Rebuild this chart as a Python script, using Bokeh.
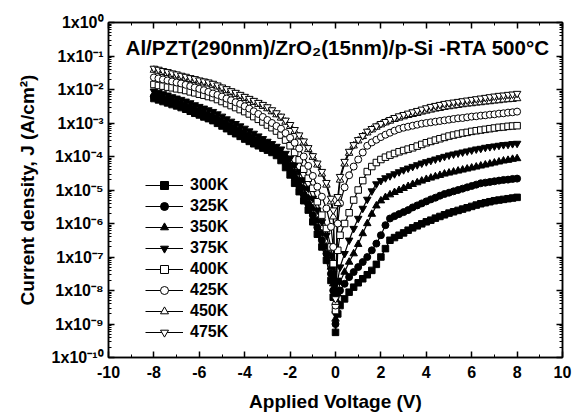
import math
from bokeh.plotting import figure
from bokeh.models import (Range1d, LogAxis, LinearAxis, FixedTicker,
                          CustomJSTickFormatter, Label, Legend, LegendItem)
from bokeh.embed import file_html
from bokeh.resources import INLINE

# ---------------- data ----------------
V_NEG = [round(-8.0 + 0.2 * i, 1) for i in range(40)]      # -8.0 ... -0.2
V_MID = [-0.1, 0.0, 0.1]
V_POS = [round(0.2 + 0.2 * i, 1) for i in range(40)]       # 0.2 ... 8.0
VOLT = V_NEG + V_MID + V_POS

LOGJ_300K = [-2.27, -2.31, -2.36, -2.40, -2.45, -2.49, -2.54, -2.59, -2.65, -2.71,
             -2.76, -2.82, -2.87, -2.93, -3.01, -3.09, -3.17, -3.25, -3.32, -3.40,
             -3.48, -3.55, -3.62, -3.68, -3.75, -3.81, -3.88, -3.97, -4.12, -4.33,
             -4.55, -4.80, -5.05, -5.32, -5.60, -5.95, -6.32, -6.70, -7.10, -7.70,
             -8.20, -9.25, -8.70,
             -8.45, -8.25, -8.05, -7.90, -7.77, -7.65, -7.53, -7.40, -7.22, -7.00,
             -6.75, -6.50, -6.42, -6.35, -6.28, -6.20, -6.13, -6.07, -6.01, -5.95,
             -5.90, -5.84, -5.79, -5.74, -5.69, -5.65, -5.61, -5.57, -5.53, -5.49,
             -5.45, -5.41, -5.38, -5.35, -5.32, -5.30, -5.28, -5.26, -5.24, -5.22]
LOGJ_325K = [-2.21, -2.25, -2.30, -2.34, -2.39, -2.43, -2.48, -2.53, -2.59, -2.64,
             -2.69, -2.75, -2.80, -2.86, -2.93, -3.01, -3.08, -3.16, -3.23, -3.30,
             -3.38, -3.45, -3.52, -3.58, -3.65, -3.71, -3.78, -3.87, -4.00, -4.19,
             -4.40, -4.64, -4.88, -5.14, -5.42, -5.75, -6.12, -6.50, -6.90, -7.50,
             -8.00, -9.00, -8.40,
             -8.00, -7.80, -7.60, -7.45, -7.30, -7.15, -7.00, -6.80, -6.60, -6.35,
             -6.05, -5.85, -5.78, -5.72, -5.66, -5.60, -5.52, -5.46, -5.40, -5.34,
             -5.28, -5.23, -5.17, -5.12, -5.08, -5.04, -5.00, -4.96, -4.92, -4.88,
             -4.84, -4.80, -4.78, -4.76, -4.74, -4.72, -4.70, -4.69, -4.67, -4.66]
LOGJ_350K = [-2.14, -2.18, -2.22, -2.27, -2.31, -2.36, -2.40, -2.46, -2.51, -2.57,
             -2.62, -2.67, -2.73, -2.78, -2.86, -2.93, -3.00, -3.07, -3.15, -3.22,
             -3.29, -3.36, -3.43, -3.50, -3.56, -3.62, -3.69, -3.77, -3.89, -4.06,
             -4.26, -4.48, -4.71, -4.96, -5.24, -5.55, -5.92, -6.30, -6.70, -7.30,
             -7.80, -8.85, -8.10,
             -7.75, -7.45, -7.15, -6.90, -6.62, -6.30, -6.00, -5.72, -5.47, -5.32,
             -5.22, -5.14, -5.07, -5.01, -4.95, -4.89, -4.83, -4.78, -4.73, -4.68,
             -4.64, -4.60, -4.56, -4.52, -4.49, -4.46, -4.43, -4.40, -4.37, -4.34,
             -4.31, -4.28, -4.25, -4.22, -4.19, -4.16, -4.13, -4.11, -4.08, -4.06]
LOGJ_375K = [-2.05, -2.09, -2.13, -2.17, -2.22, -2.26, -2.30, -2.35, -2.40, -2.46,
             -2.51, -2.56, -2.61, -2.66, -2.73, -2.80, -2.88, -2.95, -3.02, -3.09,
             -3.16, -3.24, -3.31, -3.39, -3.47, -3.55, -3.62, -3.70, -3.78, -3.91,
             -4.05, -4.25, -4.45, -4.70, -4.95, -5.25, -5.60, -5.95, -6.35, -6.95,
             -7.50, -8.70, -7.70,
             -7.30, -6.90, -6.50, -6.15, -5.85, -5.55, -5.28, -5.03, -4.82, -4.72,
             -4.64, -4.58, -4.52, -4.46, -4.40, -4.35, -4.30, -4.25, -4.20, -4.16,
             -4.12, -4.08, -4.04, -4.00, -3.96, -3.93, -3.90, -3.87, -3.84, -3.81,
             -3.78, -3.76, -3.73, -3.71, -3.69, -3.67, -3.65, -3.64, -3.62, -3.61]
LOGJ_400K = [-1.85, -1.88, -1.90, -1.93, -1.95, -1.98, -2.00, -2.03, -2.07, -2.10,
             -2.14, -2.17, -2.21, -2.24, -2.30, -2.36, -2.42, -2.48, -2.54, -2.60,
             -2.66, -2.73, -2.81, -2.89, -2.97, -3.06, -3.14, -3.24, -3.36, -3.51,
             -3.68, -3.88, -4.10, -4.38, -4.65, -4.95, -5.35, -5.75, -6.15, -6.70,
             -7.20, -8.60, -6.80,
             -6.35, -6.00, -5.68, -5.30, -5.00, -4.72, -4.45, -4.30, -4.18, -4.09,
             -4.02, -3.96, -3.91, -3.86, -3.82, -3.78, -3.74, -3.69, -3.64, -3.59,
             -3.55, -3.51, -3.47, -3.43, -3.39, -3.36, -3.33, -3.30, -3.28, -3.25,
             -3.23, -3.21, -3.19, -3.17, -3.15, -3.13, -3.12, -3.10, -3.09, -3.08]
LOGJ_425K = [-1.64, -1.67, -1.70, -1.73, -1.76, -1.79, -1.82, -1.86, -1.90, -1.94,
             -1.98, -2.02, -2.07, -2.12, -2.16, -2.21, -2.27, -2.32, -2.38, -2.43,
             -2.50, -2.57, -2.65, -2.73, -2.82, -2.91, -3.00, -3.09, -3.17, -3.30,
             -3.44, -3.59, -3.76, -4.00, -4.28, -4.58, -4.90, -5.20, -5.55, -6.10,
             -6.70, -8.45, -6.00,
             -5.40, -4.92, -4.56, -4.30, -4.09, -3.88, -3.68, -3.58, -3.50, -3.42,
             -3.35, -3.29, -3.23, -3.18, -3.14, -3.11, -3.08, -3.05, -3.02, -3.00,
             -2.98, -2.96, -2.94, -2.92, -2.90, -2.88, -2.86, -2.85, -2.83, -2.81,
             -2.80, -2.78, -2.77, -2.75, -2.74, -2.72, -2.71, -2.69, -2.68, -2.66]
LOGJ_450K = [-1.42, -1.45, -1.49, -1.52, -1.56, -1.59, -1.63, -1.66, -1.70, -1.73,
             -1.77, -1.80, -1.83, -1.87, -1.92, -1.98, -2.03, -2.09, -2.14, -2.20,
             -2.26, -2.32, -2.38, -2.44, -2.50, -2.57, -2.66, -2.75, -2.85, -2.97,
             -3.10, -3.25, -3.41, -3.59, -3.79, -4.02, -4.25, -4.52, -4.85, -5.35,
             -5.80, -8.35, -5.40,
             -4.70, -4.22, -3.90, -3.68, -3.53, -3.40, -3.29, -3.20, -3.12, -3.05,
             -2.99, -2.94, -2.89, -2.85, -2.81, -2.77, -2.74, -2.71, -2.67, -2.64,
             -2.61, -2.58, -2.56, -2.53, -2.51, -2.49, -2.47, -2.45, -2.43, -2.42,
             -2.40, -2.39, -2.37, -2.36, -2.34, -2.33, -2.31, -2.30, -2.29, -2.27]
LOGJ_475K = [-1.37, -1.40, -1.44, -1.47, -1.51, -1.54, -1.58, -1.61, -1.65, -1.68,
             -1.72, -1.75, -1.78, -1.82, -1.87, -1.93, -1.98, -2.04, -2.09, -2.15,
             -2.21, -2.27, -2.33, -2.39, -2.45, -2.52, -2.61, -2.70, -2.80, -2.92,
             -3.05, -3.20, -3.36, -3.54, -3.74, -3.98, -4.20, -4.45, -4.78, -5.25,
             -5.60, -8.25, -5.20,
             -4.60, -4.15, -3.85, -3.65, -3.50, -3.38, -3.25, -3.17, -3.09, -3.02,
             -2.96, -2.90, -2.84, -2.79, -2.75, -2.71, -2.67, -2.63, -2.59, -2.55,
             -2.51, -2.48, -2.45, -2.42, -2.40, -2.38, -2.36, -2.34, -2.32, -2.30,
             -2.28, -2.26, -2.24, -2.22, -2.20, -2.18, -2.17, -2.15, -2.14, -2.12]

LABELS = ["300K", "325K", "350K", "375K", "400K", "425K", "450K", "475K"]
SERIES = [LOGJ_300K, LOGJ_325K, LOGJ_350K, LOGJ_375K,
          LOGJ_400K, LOGJ_425K, LOGJ_450K, LOGJ_475K]
X_TICKS = [-10, -8, -6, -4, -2, 0, 2, 4, 6, 8, 10]
Y_DECADES = list(range(-10, 1))
TITLE = "Al/PZT(290nm)/ZrO\u2082(15nm)/p-Si -RTA 500\u00b0C"

# ---------------- styling ----------------
MARKERS = ["square", "circle", "triangle", "inverted_triangle"] * 2
FILLS = ["black"] * 4 + ["white"] * 4
SIZES = [6.5, 7, 7.5, 7.5] * 2
FONT = "Liberation Sans"

for s in SERIES:
    assert len(s) == len(VOLT), len(s)

p = figure(width=577, height=414, y_axis_type="log",
           x_range=Range1d(-10, 10), y_range=Range1d(1e-10, 1),
           output_backend="svg", toolbar_location=None,
           min_border_left=108, min_border_right=15,
           min_border_top=22, min_border_bottom=57)
p.grid.visible = False
p.outline_line_color = "black"
p.outline_line_width = 1.5
p.background_fill_color = "white"
p.border_fill_color = "white"

J_ALL = [[10 ** v for v in logj] for logj in SERIES]

line_rs = []
for J in J_ALL:
    line_rs.append(p.line(VOLT, J, line_color="black", line_width=1.2))
mark_rs = []
for J, mk, fc, sz in zip(J_ALL, MARKERS, FILLS, SIZES):
    mark_rs.append(p.scatter(VOLT, J, marker=mk, size=sz, fill_color=fc,
                             line_color="black", line_width=1))

sup_code = """
const sup = {"-":"\u207b","0":"\u2070","1":"\u00b9","2":"\u00b2","3":"\u00b3",
             "4":"\u2074","5":"\u2075","6":"\u2076","7":"\u2077","8":"\u2078","9":"\u2079"};
const e = Math.round(Math.log10(tick));
return "1x10" + String(e).split("").map(c => sup[c]).join("");
"""

y_major = [10.0 ** e for e in Y_DECADES]
y_minor = [k * 10.0 ** e for e in Y_DECADES[:-1] for k in range(2, 10)]
x_minor = [t + 1 for t in X_TICKS[:-1]]

def style_axis(ax):
    ax.axis_line_width = 1.5
    ax.axis_line_color = "black"
    ax.major_tick_in = 6
    ax.major_tick_out = 0
    ax.minor_tick_in = 3
    ax.minor_tick_out = 0
    ax.major_tick_line_width = 1.5
    ax.minor_tick_line_width = 1
    ax.major_label_text_font = FONT
    ax.major_label_text_font_style = "bold"
    ax.major_label_text_font_size = "16px"
    ax.major_label_text_color = "black"
    ax.axis_label_text_font = FONT
    ax.axis_label_text_font_style = "bold"
    ax.axis_label_text_font_size = "19px"
    ax.axis_label_text_color = "black"

xa = p.xaxis[0]
xa.ticker = FixedTicker(ticks=X_TICKS, minor_ticks=x_minor)
xa.formatter = CustomJSTickFormatter(code="return String(tick);")
style_axis(xa)
xa.axis_label = "Applied Voltage (V)"
xa.major_label_standoff = 8
xa.axis_label_standoff = 10

ya = p.yaxis[0]
ya.ticker = FixedTicker(ticks=y_major, minor_ticks=y_minor)
ya.formatter = CustomJSTickFormatter(code=sup_code)
style_axis(ya)
ya.axis_label = "Current density, J (A/cm\u00b2)"
ya.major_label_standoff = 5
ya.axis_label_standoff = 11

blank = "return '';"
top = LinearAxis(ticker=FixedTicker(ticks=X_TICKS, minor_ticks=x_minor),
                 formatter=CustomJSTickFormatter(code=blank))
style_axis(top)
top.major_label_text_font_size = "0px"
top.major_label_standoff = 0
p.add_layout(top, "above")

right = LogAxis(ticker=FixedTicker(ticks=y_major, minor_ticks=y_minor),
                formatter=CustomJSTickFormatter(code=blank))
style_axis(right)
right.major_label_text_font_size = "0px"
right.major_label_standoff = 0
p.add_layout(right, "right")

title = Label(x=-9.25, y=10 ** -0.75, text=TITLE,
              text_font=FONT, text_font_style="bold", text_font_size="20.6px",
              text_color="black", text_baseline="alphabetic")
p.add_layout(title)

items = [LegendItem(label=lab, renderers=[lr, mr])
         for lab, lr, mr in zip(LABELS, line_rs, mark_rs)]
leg = Legend(items=items, location=(37, 15))
leg.border_line_color = None
leg.background_fill_alpha = 0
leg.padding = 0
leg.margin = 0
leg.spacing = 1
leg.glyph_width = 38
leg.glyph_height = 20
leg.label_height = 20
leg.label_standoff = 7
leg.label_text_font = FONT
leg.label_text_font_style = "bold"
leg.label_text_font_size = "16px"
leg.label_text_color = "black"
p.add_layout(leg, "center")

open("out.html", "w").write(file_html(p, INLINE))
